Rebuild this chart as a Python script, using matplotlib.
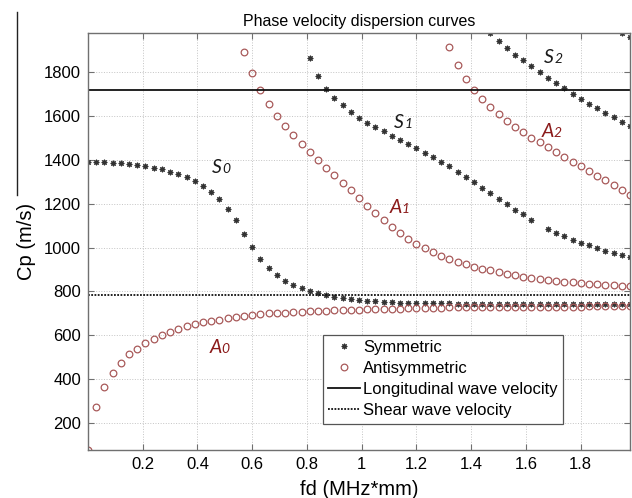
import matplotlib
matplotlib.use('Agg')
import numpy as np
import matplotlib.pyplot as plt
from matplotlib.lines import Line2D
import matplotlib.transforms as mtransforms

# ---------------- data ----------------
FD = [0.00, 0.03, 0.06, 0.09, 0.12, 0.15, 0.18, 0.21, 0.24, 0.27, 0.30, 0.33,
      0.36, 0.39, 0.42, 0.45, 0.48, 0.51, 0.54, 0.57, 0.60, 0.63, 0.66, 0.69,
      0.72, 0.75, 0.78, 0.81, 0.84, 0.87, 0.90, 0.93, 0.96, 0.99, 1.02, 1.05,
      1.08, 1.11, 1.14, 1.17, 1.20, 1.23, 1.26, 1.29, 1.32, 1.35, 1.38, 1.41,
      1.44, 1.47, 1.50, 1.53, 1.56, 1.59, 1.62, 1.65, 1.68, 1.71, 1.74, 1.77,
      1.80, 1.83, 1.86, 1.89, 1.92, 1.95, 1.98]

S0_START = 0.00
S0_CP = [1391, 1391, 1390, 1388, 1387, 1382, 1379, 1373, 1365, 1358, 1347, 1335,
         1320, 1303, 1282, 1255, 1220, 1176, 1124, 1063, 1001, 948, 905, 875,
         849, 830, 816, 803, 794, 784, 776, 771, 765, 760, 757, 754,
         752, 750, 748, 747, 746, 746, 745, 745, 745, 744, 744, 744,
         744, 744, 744, 744, 744, 744, 744, 744, 743, 743, 743, 743,
         743, 743, 743, 743, 743, 743, 743]

A0_START = 0.00
A0_CP = [75, 271, 363, 427, 472, 512, 538, 563, 583, 600, 616, 630,
         641, 650, 659, 665, 671, 677, 682, 688, 692, 695, 699, 701,
         703, 705, 707, 709, 710, 712, 713, 714, 715, 716, 717, 718,
         719, 720, 721, 722, 723, 724, 725, 725, 726, 726, 727, 727,
         727, 728, 728, 728, 729, 729, 729, 729, 730, 730, 730, 730,
         730, 731, 731, 731, 731, 731, 731]

A1_START = 0.57
A1_CP = [1891, 1795, 1719, 1656, 1602, 1555, 1513, 1472, 1435, 1400, 1364, 1330,
         1297, 1261, 1226, 1191, 1157, 1124, 1094, 1066, 1040, 1018, 997, 978,
         961, 948, 936, 923, 913, 904, 896, 887, 879, 873, 867, 863,
         858, 852, 849, 844, 841, 838, 835, 832, 829, 828, 826, 825]

S1_START = 0.81
S1_CP = [1865, 1783, 1725, 1683, 1650, 1619, 1593, 1571, 1551, 1531, 1511, 1493,
         1475, 1455, 1434, 1414, 1391, 1372, 1346, 1323, 1300, 1271, 1247, 1223,
         1197, 1171, 1151, 1127, None, 1086, 1068, 1051, 1036, 1021, 1010, 996,
         986, 975, 966, 955]

A2_START = 1.32
A2_CP = [1915, 1833, 1771, 1721, 1677, 1641, 1609, 1580, 1552, 1527, 1502, 1480,
         1457, 1435, 1414, 1392, 1372, 1350, 1329, 1308, 1284, 1262, 1242]

S2_START = 1.47
S2_CP = [1980, 1943, 1911, 1880, 1855, 1829, 1801, 1776, 1751, 1727, 1703, 1680,
         1657, 1636, 1616, 1595, 1575, 1555]

S3_START = 1.95
S3_CP = [1978, 1962]

CL = 1720   # longitudinal wave velocity
CT = 782    # shear wave velocity

X_TICKS = [0.2, 0.4, 0.6, 0.8, 1.0, 1.2, 1.4, 1.6, 1.8]
X_TICKLABELS = ['0.2', '0.4', '0.6', '0.8', '1', '1.2', '1.4', '1.6', '1.8']
Y_TICKS = [200, 400, 600, 800, 1000, 1200, 1400, 1600, 1800]

LEGEND_LABELS = ['Symmetric', 'Antisymmetric', 'Longitudinal wave velocity',
                 'Shear wave velocity']

MODE_LABELS = [  # (letter, digit, fd, cp, kind)
    ('S', '0', 0.453, 1340, 'sym'),
    ('S', '1', 1.118, 1545, 'sym'),
    ('S', '2', 1.666, 1841, 'sym'),
    ('A', '0', 0.446, 519, 'anti'),
    ('A', '1', 1.103, 1157, 'anti'),
    ('A', '2', 1.658, 1504, 'anti'),
]


def xs(start, n):
    i = FD.index(start)
    return FD[i:i + n]


def ys(vals):
    return [np.nan if v is None else v for v in vals]


# ---------------- styling ----------------
FONT = 'Liberation Sans'
plt.rcParams['font.family'] = [FONT, 'DejaVu Sans']
STAR_COL = '#333333'
CIRC_COL = '#a85a5a'
LAB_RED = '#8b1a1a'
AX_COL = '#707070'
STAR = (8, 2, 0)

fig = plt.figure(figsize=(6.32, 4.98), dpi=100)
W, H = 632, 498
ax = fig.add_axes([88 / W, 1 - 450 / H, (630 - 88) / W, (450 - 33) / H])

star_kw = dict(ls='none', marker=STAR, ms=4.0, mew=0.8, color=STAR_COL, clip_on=True)
circ_kw = dict(ls='none', marker='o', ms=4.8, mew=0.9, mfc='none', mec=CIRC_COL, clip_on=True)

h_sym = None
for start, vals in [(S0_START, S0_CP), (S1_START, S1_CP), (S2_START, S2_CP), (S3_START, S3_CP)]:
    h, = ax.plot(xs(start, len(vals)), ys(vals), **star_kw)
    if h_sym is None:
        h_sym = h
h_anti = None
for start, vals in [(A0_START, A0_CP), (A1_START, A1_CP), (A2_START, A2_CP)]:
    h, = ax.plot(xs(start, len(vals)), ys(vals), **circ_kw)
    if h_anti is None:
        h_anti = h

h_long = ax.axhline(CL, color='#111111', lw=1.3)
h_shear = ax.axhline(CT, color='#111111', lw=1.3, ls=(0, (1, 0.8)))

ax.set_xlim(0, 1.98)
ax.set_ylim(75, 1980)
ax.set_xticks(X_TICKS)
ax.set_xticklabels(X_TICKLABELS)
ax.set_yticks(Y_TICKS)
ax.tick_params(direction='in', length=4, width=0.8, color=AX_COL, top=True, right=True,
               labelsize=12, pad=5)
for sp in ax.spines.values():
    sp.set_color(AX_COL)
    sp.set_linewidth(1.0)
ax.grid(True, ls=':', color='#c4c4c4', lw=0.7)
ax.set_axisbelow(True)

ax.set_title('Phase velocity dispersion curves', fontsize=11.5, pad=5)
ax.set_xlabel('fd (MHz*mm)', fontsize=14.5, labelpad=6)
ax.set_ylabel('Cp (m/s)', fontsize=14.5, labelpad=6)

leg = ax.legend([h_sym, h_anti, h_long, h_shear], LEGEND_LABELS,
                loc='upper left', bbox_to_anchor=(0.4336, 0.2758), borderaxespad=0,
                fancybox=False, framealpha=1, edgecolor='#555555', fontsize=12,
                handlelength=1.9, handletextpad=0.2, labelspacing=0.36, borderpad=0.32)
leg.get_frame().set_linewidth(0.9)

for letter, digit, x, y, kind in MODE_LABELS:
    col = '#1a1a1a' if kind == 'sym' else LAB_RED
    ax.text(x, y, letter, fontsize=14, family='Lato', style='italic', color=col,
            ha='left', va='baseline')
    off = mtransforms.offset_copy(ax.transData, fig=fig, x=7.6 if letter == 'S' else 8.2,
                                  y=0, units='points')
    ax.text(x, y, digit, fontsize=10, family='Lato', style='italic', color=col,
            ha='left', va='baseline', transform=off)

# thin vertical line at the far left of the original figure
fig.add_artist(Line2D([17 / W, 17 / W], [1 - 12 / H, 1 - 195 / H],
                      transform=fig.transFigure, color='#222222', lw=1.0))

fig.savefig('out.png', dpi=100, facecolor='white')
